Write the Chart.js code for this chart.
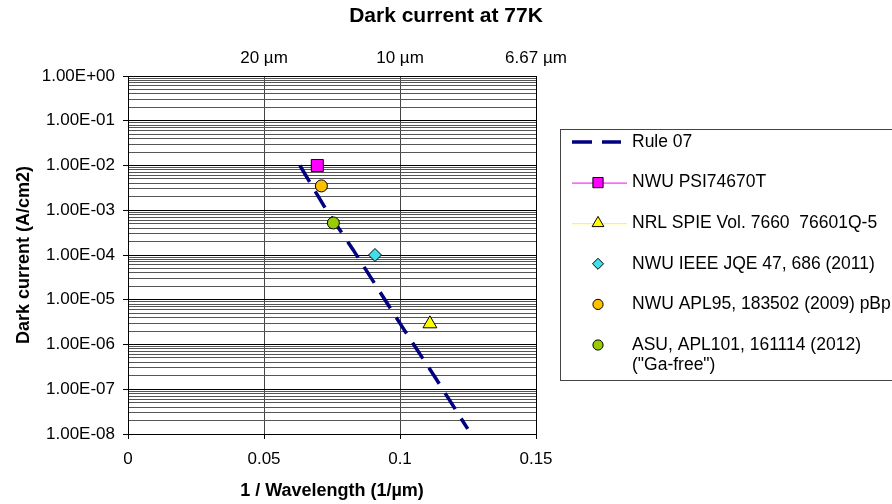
<!DOCTYPE html>
<html>
<head>
<meta charset="utf-8">
<script src="https://cdn.jsdelivr.net/npm/chart.js@4.4.1/dist/chart.umd.min.js"></script>
<style>
  html, body { margin: 0; padding: 0; background: #fff; }
  #wrap { width: 892px; height: 504px; }
</style>
</head>
<body>
<div id="wrap"><canvas id="dark-current" width="892" height="504"></canvas></div>
<script>
// Rule 07 curve
const rule07X = [0.0632, 0.073, 0.0828, 0.1006, 0.1129, 0.1249];
const rule07Y = [1.0e-2, 1.0e-3, 1.3e-4, 2.6e-6, 1.85e-7, 1.3e-8];

// measured devices (one point each)
const seriesNames = [
  'Rule 07',
  'NWU PSI74670T',
  'NRL SPIE Vol. 7660  76601Q-5',
  'NWU IEEE JQE 47, 686 (2011)',
  'NWU APL95, 183502 (2009) pBp',
  'ASU, APL101, 161114 (2012)\n("Ga-free")'
];
const pointX = [0.0696, 0.111, 0.0908, 0.0711, 0.0755];
const pointY = [1.0e-2, 2.9e-6, 1.0e-4, 3.5e-3, 5.2e-4];

// axes
const xTickValues = [0, 0.05, 0.1, 0.15];
const xTickLabels = ['0', '0.05', '0.1', '0.15'];
const topTickValues = [0.05, 0.1, 0.15];
const topTickLabels = ['20 µm', '10 µm', '6.67 µm'];
const yTickValues = [1e-8, 1e-7, 1e-6, 1e-5, 1e-4, 1e-3, 1e-2, 1e-1, 1];
const yTickLabels = ['1.00E-08', '1.00E-07', '1.00E-06', '1.00E-05', '1.00E-04',
                     '1.00E-03', '1.00E-02', '1.00E-01', '1.00E+00'];

// minor gridlines at 2..9 of each decade
const yGridValues = [];
yTickValues.forEach((d, i) => {
  yGridValues.push(d);
  if (i < yTickValues.length - 1) {
    for (let k = 2; k <= 9; k++) yGridValues.push(k * d);
  }
});

function majorIndex(v) {
  return yTickValues.findIndex(t => Math.abs(v / t - 1) < 1e-6);
}

Chart.defaults.font.family = '"Liberation Sans", Arial, sans-serif';
Chart.defaults.font.size = 17;
Chart.defaults.color = '#000';

const markerStyles = [
  { style: 'rect', color: '#FF00FF', r: 8.5, line: true },
  { style: 'triangle', color: '#FFFF00', r: 8, line: true },
  { style: 'rectRot', color: '#40E0E6', r: 6.5, line: false },
  { style: 'circle', color: '#FFC000', r: 6, line: false },
  { style: 'circle', color: '#99CC00', r: 6, line: false }
];

const datasets = [{
  label: seriesNames[0],
  data: rule07X.map((x, i) => ({ x: x, y: rule07Y[i] })),
  showLine: true,
  borderColor: '#000080',
  borderWidth: 3.5,
  borderDash: [19, 11],
  pointRadius: 0,
  order: 1
}];
pointX.forEach((x, i) => {
  const m = markerStyles[i];
  datasets.push({
    label: seriesNames[i + 1],
    data: [{ x: x, y: pointY[i] }],
    showLine: false,
    pointStyle: m.style,
    pointRadius: m.r,
    pointBackgroundColor: m.color,
    pointBorderColor: '#000',
    pointBorderWidth: 1,
    borderColor: m.color,
    legendLine: m.line,
    order: 0
  });
});

function drawMarker(ctx, style, x, y, r) {
  ctx.beginPath();
  if (style === 'rect') {
    const s = Math.SQRT1_2 * r;
    ctx.rect(x - s, y - s, 2 * s, 2 * s);
  } else if (style === 'rectRot') {
    ctx.moveTo(x - r, y); ctx.lineTo(x, y - r); ctx.lineTo(x + r, y); ctx.lineTo(x, y + r);
    ctx.closePath();
  } else if (style === 'triangle') {
    let a = 0;
    ctx.moveTo(x + Math.sin(a) * r, y - Math.cos(a) * r);
    a += Math.PI * 2 / 3;
    ctx.lineTo(x + Math.sin(a) * r, y - Math.cos(a) * r);
    a += Math.PI * 2 / 3;
    ctx.lineTo(x + Math.sin(a) * r, y - Math.cos(a) * r);
    ctx.closePath();
  } else {
    ctx.arc(x, y, r, 0, Math.PI * 2);
  }
  ctx.fill();
  ctx.stroke();
}

// boxed legend to the right of the plot
const boxedLegend = {
  id: 'boxedLegend',
  afterDraw(chart) {
    const ctx = chart.ctx;
    const left = 560, top = 129, bottom = 380;
    ctx.save();
    ctx.strokeStyle = '#444';
    ctx.lineWidth = 1;
    ctx.strokeRect(left + 0.5, top + 0.5, 400, bottom - top);
    ctx.font = '17.5px "Liberation Sans", Arial, sans-serif';
    ctx.textBaseline = 'middle';
    ctx.fillStyle = '#000';
    chart.data.datasets.forEach((ds, i) => {
      const y = top + 13 + i * 40.6;
      if (ds.showLine) {
        ctx.strokeStyle = ds.borderColor;
        ctx.lineWidth = ds.borderWidth;
        ctx.beginPath(); ctx.moveTo(572, y); ctx.lineTo(592, y); ctx.stroke();
        ctx.beginPath(); ctx.moveTo(602, y); ctx.lineTo(621, y); ctx.stroke();
      } else {
        if (ds.legendLine) {
          ctx.strokeStyle = ds.borderColor;
          ctx.lineWidth = 1;
          ctx.beginPath(); ctx.moveTo(572, y + 0.5); ctx.lineTo(627, y + 0.5); ctx.stroke();
        }
        ctx.fillStyle = ds.pointBackgroundColor;
        ctx.strokeStyle = '#000';
        ctx.lineWidth = 1;
        drawMarker(ctx, ds.pointStyle, 598, y, ds.pointRadius * 0.85);
      }
      ctx.fillStyle = '#000';
      ds.label.split('\n').forEach((line, j) => {
        ctx.fillText(line, 632, y + j * 20);
      });
    });
    ctx.restore();
  }
};

new Chart(document.getElementById('dark-current'), {
  type: 'scatter',
  data: { datasets: datasets },
  plugins: [boxedLegend],
  options: {
    responsive: false,
    animation: false,
    layout: { padding: 0 },
    plugins: {
      legend: { display: false },
      tooltip: { enabled: false },
      title: {
        display: true,
        text: 'Dark current at 77K',
        font: { size: 21, weight: 'bold' },
        padding: { top: 4, bottom: 0 }
      }
    },
    scales: {
      x: {
        type: 'linear',
        position: 'bottom',
        min: 0,
        max: 0.15,
        afterBuildTicks: scale => { scale.ticks = xTickValues.map(v => ({ value: v })); },
        afterFit: scale => { scale.height = 70; },
        ticks: {
          autoSkip: false,
          maxRotation: 0,
          padding: 10,
          callback: v => xTickLabels[xTickValues.indexOf(v)] ?? ''
        },
        grid: {
          color: ctx => (ctx.tick && (ctx.tick.value === 0 || ctx.tick.value === 0.15)) ? '#000' : '#444',
          tickColor: '#000',
          tickLength: 5
        },
        border: { color: '#000' },
        title: {
          display: true,
          text: '1 / Wavelength (1/µm)',
          font: { size: 18, weight: 'bold' },
          padding: { top: 0, bottom: 2 }
        }
      },
      xTop: {
        type: 'linear',
        position: 'top',
        min: 0,
        max: 0.15,
        afterBuildTicks: scale => { scale.ticks = topTickValues.map(v => ({ value: v })); },
        afterFit: scale => { scale.height = 76 - 4 - 25.2; },
        ticks: {
          autoSkip: false,
          maxRotation: 0,
          padding: 7,
          callback: v => topTickLabels[topTickValues.indexOf(v)] ?? ''
        },
        grid: { display: false, drawTicks: false },
        border: { display: false }
      },
      y: {
        type: 'logarithmic',
        position: 'left',
        min: 1e-8,
        max: 1,
        afterBuildTicks: scale => { scale.ticks = yGridValues.map(v => ({ value: v })); },
        afterFit: scale => { scale.width = 128; },
        ticks: {
          autoSkip: false,
          padding: 8,
          callback: v => {
            const k = majorIndex(v);
            return k >= 0 ? yTickLabels[k] : '';
          }
        },
        grid: {
          color: ctx => (ctx.tick && majorIndex(ctx.tick.value) >= 0) ? '#000' : '#555',
          tickColor: ctx => (ctx.tick && majorIndex(ctx.tick.value) >= 0) ? '#000' : 'rgba(0,0,0,0)',
          tickLength: 5
        },
        border: { color: '#000' },
        title: {
          display: true,
          text: 'Dark current (A/cm2)',
          font: { size: 18, weight: 'bold' },
          padding: { top: 13, bottom: 0 }
        }
      },
      // empty right-hand axis that reserves room for the legend
      ySpace: {
        type: 'linear',
        position: 'right',
        min: 0,
        max: 1,
        afterFit: scale => { scale.width = 356; },
        ticks: { display: false },
        grid: { display: false, drawTicks: false },
        border: { display: false }
      }
    }
  }
});
</script>
</body>
</html>
